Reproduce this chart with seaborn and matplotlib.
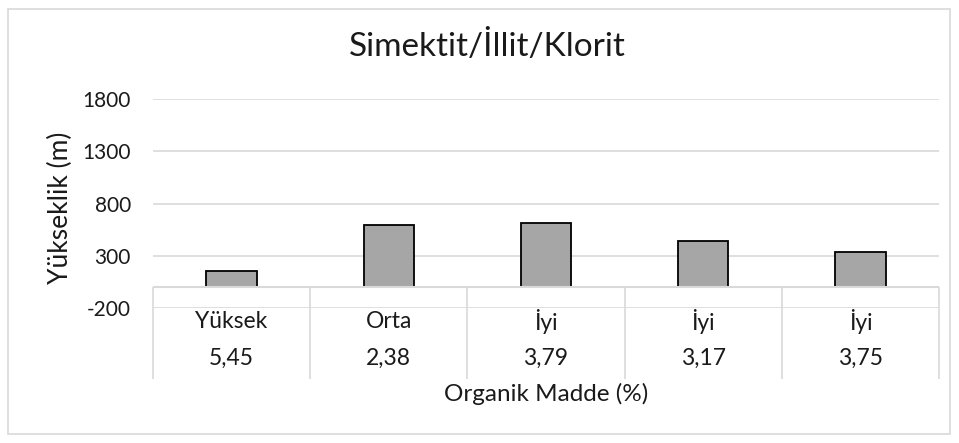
import numpy as np
import pandas as pd
import matplotlib
matplotlib.use("Agg")
import matplotlib.pyplot as plt
import seaborn as sns

# data
quality = ["Yüksek", "Orta", "İyi", "İyi", "İyi"]
organic = ["5,45", "2,38", "3,79", "3,17", "3,75"]
height_m = [150, 590, 610, 438, 335]
yticks = [-200, 300, 800, 1300, 1800]

df = pd.DataFrame({"pos": range(len(quality)), "height": height_m})

sns.set_theme(style="white")
plt.rcParams["font.family"] = ["Lato", "DejaVu Sans"]

fig = plt.figure(figsize=(9.59, 4.43), dpi=100)
ax = fig.add_axes([153 / 959, 1 - 308 / 443, (939 - 153) / 959, (308 - 99) / 443])

sns.barplot(data=df, x="pos", y="height", color="#a6a6a6", width=0.32,
            edgecolor="black", linewidth=1.3, saturation=1, ax=ax, zorder=3)

ax.set_xlim(-0.5, len(quality) - 0.5)
ax.set_ylim(yticks[0], yticks[-1])
ax.set_yticks(yticks)
ax.set_yticklabels([str(t) for t in yticks], fontsize=15, color="#1a1a1a")
ax.tick_params(axis="y", length=0, pad=16)
ax.set_xticks([])
ax.set_xlabel("")
ax.set_ylabel("")
for s in ax.spines.values():
    s.set_visible(False)

grid_c = "#d9d9d9"
for t in yticks:
    ax.axhline(t, color=grid_c, lw=1.2, zorder=1)
ax.axhline(0, color=grid_c, lw=1.5, zorder=4)

# category table below the axis
bounds = np.arange(len(quality) + 1) - 0.5
ax.vlines(bounds, 0, -880, colors=grid_c, lw=1.2, clip_on=False, zorder=4)
for i, (q, o) in enumerate(zip(quality, organic)):
    ax.text(i, -330, q, ha="center", va="center", fontsize=16.5, color="#1a1a1a")
    ax.text(i, -680, o, ha="center", va="center", fontsize=16.5, color="#1a1a1a")

fig.text(60 / 959, 1 - 208 / 443, "Yükseklik (m)", rotation=90, ha="center",
         va="center", fontsize=19, color="#1a1a1a")
fig.text(546 / 959, 1 - 394 / 443, "Organik Madde (%)", ha="center", va="center",
         fontsize=17.5, color="#1a1a1a")
fig.text(487 / 959, 1 - 46 / 443, "Simektit/İllit/Klorit", ha="center", va="center",
         fontsize=24, color="#1a1a1a")

# outer chart border
fig.patches.append(plt.Rectangle((8 / 959, 9 / 443), 942 / 959, 425 / 443,
                                 transform=fig.transFigure, fill=False,
                                 edgecolor="#d9d9d9", lw=1.2))

fig.savefig("out.png", dpi=100, facecolor="white")
